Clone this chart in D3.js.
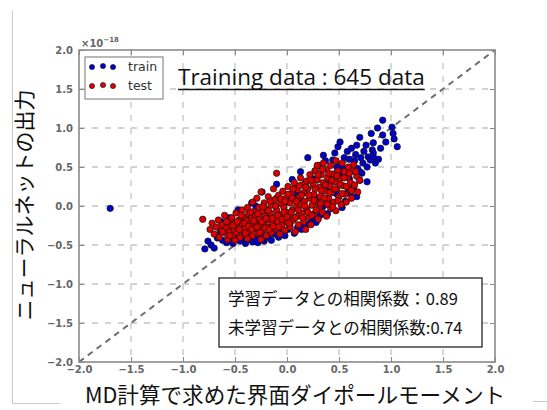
<!DOCTYPE html>
<html>
<head>
<meta charset="utf-8">
<script src="https://cdnjs.cloudflare.com/ajax/libs/d3/7.8.5/d3.min.js"></script>
<style>
  body { margin: 0; background: #fff; }
  svg { display: block; }
</style>
</head>
<body>
<svg id="chart" width="547" height="410"></svg>
<script>
// ticks shared by both axes (units of 1e-18)
const tickValues = [-2.0, -1.5, -1.0, -0.5, 0.0, 0.5, 1.0, 1.5, 2.0];

// train points [MD value, network output]
const trainPoints = [
  [-1.70,-0.03],
  [-0.79,-0.55],[-0.76,-0.45],[-0.73,-0.50],[-0.70,-0.54],[-0.67,-0.41],[-0.64,-0.33],[-0.62,-0.44],
  [-0.63,-0.20],[-0.60,-0.27],[-0.58,-0.47],[-0.55,-0.42],[-0.52,-0.48],[-0.47,-0.05],[-0.49,-0.39],
  [-0.45,-0.45],[-0.42,-0.41],[-0.40,-0.48],[-0.38,-0.44],[-0.36,-0.40],[-0.34,0.04],[-0.33,-0.46],
  [-0.30,-0.42],[-0.28,-0.47],[-0.26,-0.39],[-0.24,0.18],[-0.22,-0.45],[-0.21,-0.41],[-0.18,-0.38],
  [-0.15,-0.44],[-0.12,-0.36],[-0.10,0.28],[-0.08,-0.40],[-0.05,-0.33],[-0.02,-0.38],[0.01,-0.30],
  [0.03,-0.22],[0.05,0.34],[0.07,-0.35],[0.10,-0.28],[0.13,0.44],[0.14,-0.30],[0.17,-0.25],[0.20,0.62],
  [0.22,-0.22],[0.25,-0.18],[0.28,-0.21],[0.30,0.52],[0.32,-0.12],[0.34,-0.08],[0.35,0.65],[0.37,0.58],
  [0.39,-0.10],[0.41,0.04],[0.43,-0.03],[0.44,0.59],[0.46,0.68],[0.48,0.50],[0.49,0.76],[0.51,0.52],
  [0.51,0.82],[0.53,-0.02],[0.55,0.62],[0.56,0.06],[0.58,0.17],[0.58,0.70],[0.60,0.60],[0.62,0.74],
  [0.63,0.12],[0.64,0.24],[0.65,0.58],[0.66,0.66],[0.67,0.78],[0.68,0.48],[0.70,0.33],[0.70,0.88],
  [0.71,0.62],[0.72,0.42],[0.73,0.55],[0.74,0.70],[0.76,0.78],[0.77,0.50],[0.78,0.63],[0.80,0.59],
  [0.81,0.93],[0.82,0.72],[0.83,0.81],[0.83,0.68],[0.85,0.55],[0.87,1.00],[0.88,0.60],[0.90,0.74],
  [0.92,1.10],[0.92,0.91],[0.95,0.82],[1.01,1.01],[1.02,0.93],[1.03,0.86],[1.06,0.76],
  [0.67,0.12],[0.70,0.44],[0.77,0.31],[0.83,0.63],
  [-0.55,-0.15],[-0.45,-0.25],[-0.30,0.00],[-0.20,-0.10],[-0.10,0.10],[0.00,0.05],[0.10,0.15],
  [0.18,0.30],[0.25,0.35],[0.30,0.10],[0.40,0.30],[0.45,0.40],[0.52,0.40],[0.60,0.35],[0.15,0.05],
  [-0.05,-0.20],[0.35,0.00],[0.48,0.15],[0.38,0.22],[0.27,0.45],[0.08,0.25],[-0.15,0.05],[-0.35,-0.15],
  [0.55,0.48],[0.62,0.45]
];

// test points [MD value, network output]
const testPoints = [
  [-0.81,-0.17],
  [-0.74,-0.30],[-0.72,-0.22],[-0.70,-0.36],[-0.68,-0.27],[-0.66,-0.18],[-0.65,-0.40],[-0.63,-0.31],
  [-0.62,-0.24],[-0.60,-0.12],[-0.59,-0.35],[-0.58,-0.28],[-0.57,-0.43],[-0.56,-0.20],[-0.55,-0.33],
  [-0.54,-0.26],[-0.53,-0.15],[-0.52,-0.38],[-0.51,-0.30],[-0.50,-0.22],[-0.50,-0.44],
  [-0.49,-0.09],[-0.48,-0.34],[-0.47,-0.27],[-0.46,-0.18],[-0.45,-0.40],[-0.44,-0.31],[-0.43,-0.05],
  [-0.43,-0.23],[-0.42,-0.14],[-0.41,-0.36],[-0.40,-0.28],[-0.39,-0.19],[-0.38,-0.02],[-0.38,-0.42],
  [-0.37,-0.10],[-0.36,-0.33],[-0.35,-0.25],[-0.34,-0.16],[-0.33,0.05],[-0.33,-0.38],[-0.32,-0.07],
  [-0.31,-0.29],[-0.30,-0.21],[-0.30,-0.12],[-0.29,0.10],[-0.28,-0.35],[-0.27,-0.02],[-0.27,-0.26],
  [-0.26,-0.17],[-0.25,-0.43],
  [-0.25,0.18],[-0.24,-0.08],[-0.23,-0.31],[-0.22,-0.22],[-0.22,0.04],[-0.21,-0.13],[-0.20,-0.38],
  [-0.19,-0.04],[-0.19,-0.27],[-0.18,0.12],[-0.17,-0.18],[-0.16,-0.09],[-0.15,-0.34],[-0.15,0.01],
  [-0.14,-0.23],[-0.13,0.22],[-0.12,-0.14],[-0.12,0.08],[-0.11,-0.29],[-0.10,-0.05],[-0.10,0.42],
  [-0.09,-0.20],[-0.08,0.14],[-0.07,-0.36],[-0.07,-0.11],[-0.06,0.03],[-0.05,-0.25],[-0.04,0.19],
  [-0.04,-0.16],[-0.03,-0.02],[-0.02,-0.31],[-0.01,0.10],[-0.01,-0.08],[0.00,-0.21],
  [0.01,0.25],[0.02,-0.12],[0.03,0.04],[0.03,-0.27],[0.04,0.16],[0.05,-0.05],[0.06,-0.18],[0.07,0.30],
  [0.07,0.09],[0.08,-0.33],[0.09,-0.01],[0.10,0.21],[0.10,-0.13],[0.11,-0.24],[0.12,0.12],[0.13,0.36],
  [0.13,0.02],[0.14,-0.09],[0.15,0.27],[0.16,-0.20],[0.16,0.17],[0.17,0.06],[0.18,-0.30],[0.19,0.32],
  [0.19,-0.04],[0.20,0.22],[0.21,-0.14],[0.22,0.10],[0.22,0.40],[0.23,-0.24],[0.24,0.01],[0.25,0.28],
  [0.26,0.15],[0.26,-0.10],[0.27,0.45],[0.28,0.05],[0.29,0.34],[0.29,0.52],[0.30,-0.17],[0.31,0.24],
  [0.31,-0.02],[0.32,0.12],[0.33,0.40],[0.34,-0.08],[0.35,0.30],[0.35,0.55],[0.36,0.19],[0.37,0.04],
  [0.38,0.47],[0.38,-0.13],[0.39,0.36],[0.40,0.10],[0.41,0.26],[0.42,-0.03],[0.42,0.52],[0.43,0.17],
  [0.44,0.41],[0.45,0.05],[0.46,0.31],[0.47,-0.06],[0.47,0.58],[0.48,0.22],[0.49,0.45],[0.50,0.12],
  [0.51,0.35],[0.52,0.02],[0.53,0.55],[0.54,0.26],[0.55,0.44],[0.56,0.15],[0.57,0.05],[0.58,0.37],
  [0.59,0.50],[0.60,0.22],[0.61,0.30],[0.62,0.10],[0.63,0.45],[0.64,0.53],[0.65,0.27],[0.67,0.38],
  [0.68,0.18],[0.70,0.33],
  [-0.62,-0.33],[-0.58,-0.20],[-0.55,-0.38],[-0.52,-0.25],[-0.48,-0.20],[-0.46,-0.30],[-0.44,-0.12],
  [-0.41,-0.22],[-0.40,-0.35],[-0.37,-0.26],[-0.35,-0.08],[-0.34,-0.30],[-0.32,-0.19],[-0.29,-0.27],
  [-0.28,-0.10],[-0.26,-0.34],[-0.24,-0.20],[-0.23,-0.01],[-0.21,-0.28],[-0.20,-0.16],[-0.18,-0.06],
  [-0.17,-0.30],[-0.16,0.06],[-0.14,-0.16],[-0.13,-0.26],[-0.11,0.00],[-0.09,-0.12],[-0.08,-0.27],
  [-0.06,0.09],[-0.05,-0.17],[-0.03,-0.08],[-0.02,0.06],[0.00,-0.14],[0.01,0.15],[0.02,-0.22],
  [0.04,-0.08],[0.05,0.10],[0.06,0.22],[0.08,-0.15],[0.09,0.06],[0.11,-0.05],[0.12,0.26],[0.14,0.14],
  [0.15,-0.15],[0.17,0.00],[0.18,0.24],[0.20,-0.08],[0.21,0.14],[0.23,0.33],[0.24,-0.12],[0.26,0.07],
  [0.27,0.22],[0.28,-0.05],[0.30,0.40],[0.32,0.03],[0.33,0.20],[0.34,0.47],[0.36,0.10],[0.37,0.27],
  [0.39,0.02],[0.40,0.42],[0.41,0.17],[0.43,0.33],[0.44,-0.01],[0.46,0.22],[0.48,0.39],[0.49,0.07],
  [0.51,0.28],[0.53,0.16],[0.55,0.36],[0.57,0.25],[0.60,0.42],[0.62,0.20],[0.66,0.44]
];

const legendLabels = ["train", "test"];
const titleText = "Training data : 645 data";
const corrLines = ["学習データとの相関係数：0.89", "未学習データとの相関係数:0.74"];
const xLabel = "MD計算で求めた界面ダイポールモーメント";
const yLabel = "ニューラルネットの出力";

const svg = d3.select("#chart");
const m = {left: 79, top: 50, right: 495, bottom: 362};

const x = d3.scaleLinear().domain([-2, 2]).range([m.left, m.right]);
const y = d3.scaleLinear().domain([-2, 2]).range([m.bottom, m.top]);

// slide frame bits
svg.append("line").attr("x1", 12.5).attr("x2", 12.5).attr("y1", 11).attr("y2", 403)
  .attr("stroke", "#c8c8c8").attr("stroke-width", 1);
svg.append("line").attr("x1", 12).attr("x2", 60).attr("y1", 403.5).attr("y2", 403.5)
  .attr("stroke", "#c8c8c8").attr("stroke-width", 1);
svg.append("line").attr("x1", 533).attr("x2", 547).attr("y1", 401.5).attr("y2", 401.5)
  .attr("stroke", "#c8c8c8").attr("stroke-width", 1);

// grid
const grid = svg.append("g");
grid.selectAll(".gx").data(tickValues.slice(1, -1)).join("line")
  .attr("x1", d => x(d)).attr("x2", d => x(d)).attr("y1", m.top).attr("y2", m.bottom)
  .attr("stroke", "#c4c4c4").attr("stroke-width", 1.3).attr("stroke-dasharray", "6,7");
grid.selectAll(".gy").data(tickValues.slice(1, -1)).join("line")
  .attr("y1", d => y(d)).attr("y2", d => y(d)).attr("x1", m.left).attr("x2", m.right)
  .attr("stroke", "#c4c4c4").attr("stroke-width", 1.3).attr("stroke-dasharray", "6,7");

// diagonal
svg.append("line")
  .attr("x1", x(-2)).attr("y1", y(-2)).attr("x2", x(2)).attr("y2", y(2))
  .attr("stroke", "#6e6e6e").attr("stroke-width", 2).attr("stroke-dasharray", "6,5");

// points
svg.append("g").selectAll("circle").data(trainPoints).join("circle")
  .attr("cx", d => x(d[0])).attr("cy", d => y(d[1])).attr("r", 3.2)
  .attr("fill", "#0000cc").attr("stroke", "#111").attr("stroke-width", 0.7);
svg.append("g").selectAll("circle").data(testPoints).join("circle")
  .attr("cx", d => x(d[0])).attr("cy", d => y(d[1])).attr("r", 3.2)
  .attr("fill", "#dd0000").attr("stroke", "#111").attr("stroke-width", 0.7);

// axes (ticks inside on all sides)
const fmt = d3.format(".1f");
const styleAxis = g => {
  g.select(".domain").remove();
  g.selectAll(".tick line").attr("stroke", "#888").attr("stroke-width", 1);
  g.selectAll(".tick text").attr("fill", "#666").attr("font-family", "DejaVu Sans")
    .attr("font-size", 10).attr("font-weight", "bold");
};
svg.append("g").attr("transform", `translate(0,${m.bottom})`)
  .call(d3.axisBottom(x).tickValues(tickValues).tickFormat(d => fmt(d).replace("-", "\u2212")).tickSize(-5).tickPadding(4))
  .call(styleAxis);
svg.append("g").attr("transform", `translate(${m.left},0)`)
  .call(d3.axisLeft(y).tickValues(tickValues).tickFormat(d => fmt(d).replace("-", "\u2212")).tickSize(-5).tickPadding(6))
  .call(styleAxis);
svg.append("g").attr("transform", `translate(0,${m.top})`)
  .call(d3.axisTop(x).tickValues(tickValues).tickFormat("").tickSize(-5)).call(styleAxis);
svg.append("g").attr("transform", `translate(${m.right},0)`)
  .call(d3.axisRight(y).tickValues(tickValues).tickFormat("").tickSize(-5)).call(styleAxis);

// frame
svg.append("rect").attr("x", m.left).attr("y", m.top)
  .attr("width", m.right - m.left).attr("height", m.bottom - m.top)
  .attr("fill", "none").attr("stroke", "#8a8a8a").attr("stroke-width", 1.6);

// offset text
const off = svg.append("text").attr("x", 81).attr("y", 47)
  .attr("font-family", "DejaVu Sans").attr("font-size", 10).attr("fill", "#666").attr("font-weight", "bold");
off.append("tspan").text("\u00d710");
off.append("tspan").attr("dy", -5).attr("font-size", 7).text("\u221218");

// legend
const lg = svg.append("g");
lg.append("rect").attr("x", 85).attr("y", 57).attr("width", 78).attr("height", 42)
  .attr("fill", "#fff").attr("stroke", "#8a8a8a").attr("stroke-width", 1.2);
const legendColors = ["#0000cc", "#dd0000"];
legendLabels.forEach((lab, i) => {
  const cy = 67 + i * 19;
  lg.selectAll(".m" + i).data([92, 103, 113]).join("circle")
    .attr("cx", d => d).attr("cy", d => cy + (d === 103 ? -1 : 0)).attr("r", 2.6)
    .attr("fill", legendColors[i]).attr("stroke", "#111").attr("stroke-width", 0.6);
  lg.append("text").attr("x", 128).attr("y", cy + 4).text(lab)
    .attr("font-family", "DejaVu Sans").attr("font-size", 12.5).attr("fill", "#333");
});

// title
const t = svg.append("text").attr("x", 178).attr("y", 85).text(titleText)
  .attr("font-family", "Open Sans").attr("font-size", 22.5).attr("fill", "#111");
const tw = t.node().getComputedTextLength();
svg.append("line").attr("x1", 178).attr("x2", 178 + tw).attr("y1", 89.5).attr("y2", 89.5)
  .attr("stroke", "#111").attr("stroke-width", 1.3);

// correlation box
svg.append("rect").attr("x", 219).attr("y", 278).attr("width", 263).attr("height", 69)
  .attr("fill", "#fff").attr("stroke", "#111").attr("stroke-width", 1.2);
corrLines.forEach((s, i) => {
  svg.append("text").attr("x", 228).attr("y", 305 + i * 29).text(s)
    .attr("font-family", "Noto Sans CJK JP").attr("font-size", 16.5).attr("fill", "#111");
});

// axis labels
svg.append("text").attr("x", 295).attr("y", 403).attr("text-anchor", "middle").text(xLabel)
  .attr("font-family", "Noto Sans CJK JP").attr("font-size", 21.6).attr("fill", "#111");
svg.append("text").attr("transform", "translate(32,205) rotate(-90)").attr("text-anchor", "middle").text(yLabel)
  .attr("font-family", "Noto Sans CJK JP").attr("font-size", 21).attr("fill", "#111");
</script>
</body>
</html>
